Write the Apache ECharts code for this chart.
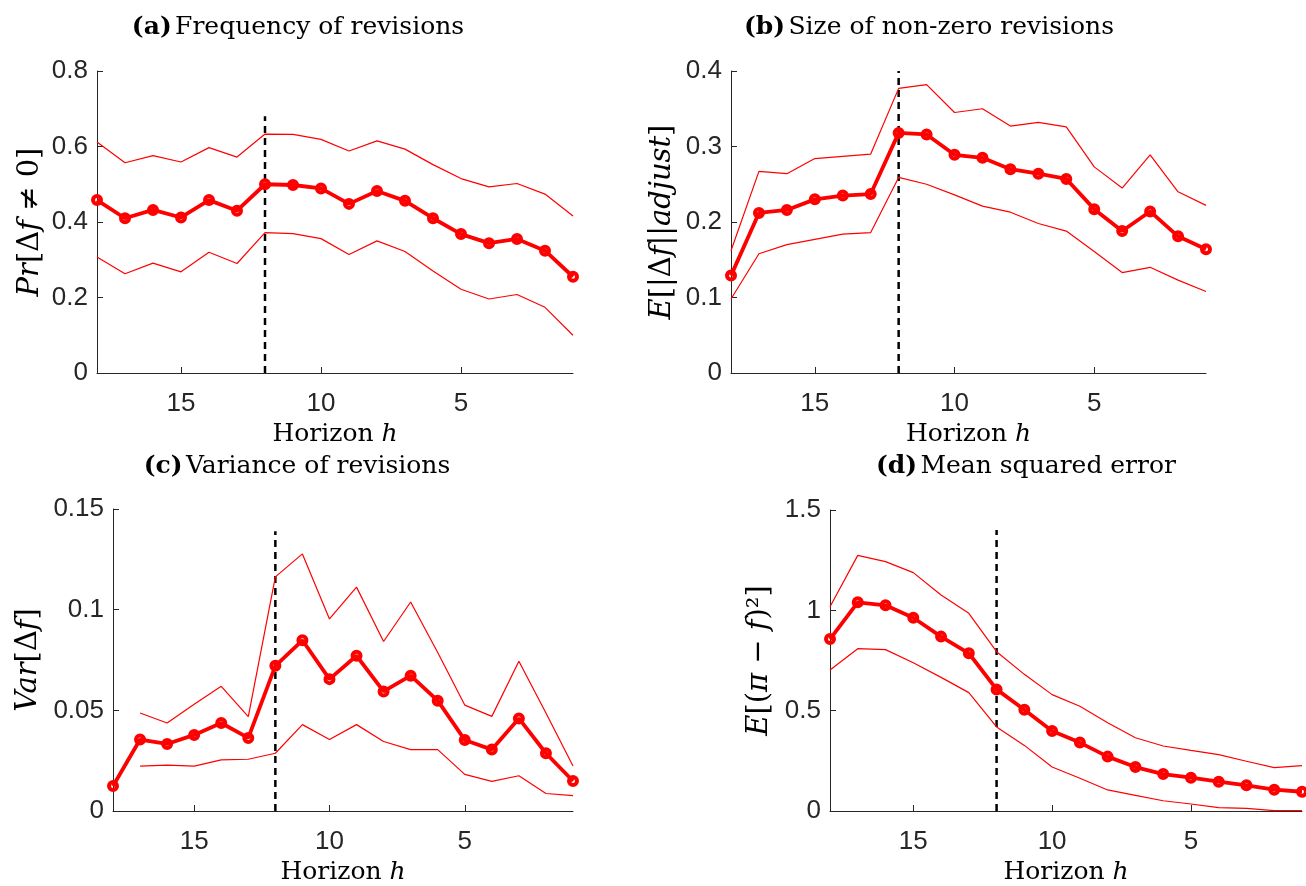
<!DOCTYPE html>
<html>
<head>
<meta charset="utf-8">
<title>Revisions by horizon</title>
<script src="https://cdn.jsdelivr.net/npm/echarts@6/dist/echarts.min.js"></script>
<style>
html,body{margin:0;padding:0;background:#fff;}
#main{width:1306px;height:886px;}
</style>
</head>
<body>
<div id="main"></div>
<script>
var horizon = [18,17,16,15,14,13,12,11,10,9,8,7,6,5,4,3,2,1];
var xTicks = [5,10,15];
var cutoffH = 12;

// (a) frequency of revisions
var freqMean  = [0.458,0.410,0.432,0.412,0.458,0.430,0.500,0.498,0.489,0.448,0.482,0.456,0.410,0.368,0.344,0.355,0.324,0.255];
var freqUpper = [0.612,0.557,0.576,0.559,0.597,0.572,0.633,0.632,0.619,0.588,0.615,0.593,0.552,0.515,0.493,0.502,0.474,0.416];
var freqLower = [0.307,0.263,0.291,0.268,0.320,0.290,0.372,0.369,0.356,0.314,0.350,0.322,0.270,0.222,0.196,0.208,0.174,0.100];

// (b) size of non-zero revisions
var sizeMean  = [0.129,0.212,0.216,0.230,0.235,0.237,0.318,0.316,0.289,0.285,0.270,0.264,0.257,0.217,0.188,0.214,0.181,0.164];
var sizeUpper = [0.162,0.267,0.264,0.284,0.287,0.290,0.377,0.382,0.345,0.350,0.327,0.332,0.326,0.273,0.245,0.289,0.240,0.222];
var sizeLower = [0.098,0.158,0.170,0.177,0.184,0.186,0.259,0.250,0.236,0.221,0.213,0.198,0.188,0.161,0.133,0.140,0.123,0.108];

// (c) variance of revisions
var varMean  = [0.0124,0.0355,0.0333,0.0378,0.0437,0.0363,0.0721,0.0848,0.0655,0.0771,0.0594,0.0672,0.0548,0.0353,0.0305,0.0460,0.0287,0.0149];
var varUpper = [null,0.0487,0.0437,0.0530,0.0619,0.0469,0.1163,0.1277,0.0954,0.1112,0.0842,0.1038,0.0787,0.0526,0.0470,0.0744,0.0487,0.0223];
var varLower = [null,0.0223,0.0228,0.0223,0.0254,0.0257,0.0287,0.0429,0.0355,0.0429,0.0345,0.0305,0.0305,0.0182,0.0147,0.0175,0.0087,0.0076];

// (d) mean squared error
var mseMean  = [0.857,1.040,1.025,0.963,0.869,0.786,0.606,0.505,0.399,0.341,0.271,0.219,0.184,0.166,0.146,0.128,0.106,0.096];
var mseUpper = [1.018,1.274,1.243,1.188,1.076,0.985,0.794,0.681,0.580,0.522,0.440,0.365,0.324,0.302,0.281,0.248,0.216,0.226];
var mseLower = [0.703,0.809,0.804,0.739,0.666,0.590,0.419,0.327,0.219,0.163,0.105,0.078,0.051,0.035,0.017,0.013,0.002,0.002];

// top of the dashed cutoff line in each panel
var cutoffTop = [0.68, 0.4, 0.139, 1.4];

var axisColor = '#262626';
var serif = 'DejaVu Serif';
var sans = "'Liberation Sans', sans-serif";

function pairs(arr){
	return horizon.map(function(h, i){
		return [h, arr[i] === null ? '-' : arr[i]];
	});
}

function xAxisFor(idx){
	return {
		type: 'value', gridIndex: idx, min: 1, max: 18, inverse: true,
		name: '{n|Horizon} {i|h}', nameLocation: 'middle', nameGap: 49,
		nameTextStyle: {
			fontFamily: serif, fontSize: 25, color: '#000',
			rich: {
				n: {fontFamily: serif, fontSize: 25, color: '#000'},
				i: {fontFamily: serif, fontSize: 25, fontStyle: 'italic', color: '#000'}
			}
		},
		axisLine: {show: true, lineStyle: {color: axisColor, width: 1}},
		axisTick: {show: true, inside: true, length: 6, customValues: xTicks, lineStyle: {color: axisColor}},
		axisLabel: {customValues: xTicks, margin: 18, fontFamily: sans, fontSize: 26, color: axisColor},
		splitLine: {show: false}
	};
}

function yAxisFor(idx, max, step, name, gap){
	return {
		type: 'value', gridIndex: idx, min: 0, max: max, interval: step,
		name: name, nameLocation: 'middle', nameGap: gap, nameRotate: 90,
		nameTextStyle: {
			fontFamily: serif, fontSize: 29, color: '#000',
			rich: {
				u: {fontFamily: serif, fontSize: 29, color: '#000'},
				i: {fontFamily: serif, fontSize: 29, fontStyle: 'italic', color: '#000'}
			}
		},
		axisLine: {show: true, lineStyle: {color: axisColor, width: 1}},
		axisTick: {show: true, inside: true, length: 6, lineStyle: {color: axisColor}},
		axisLabel: {margin: 9, fontFamily: sans, fontSize: 26, color: axisColor},
		splitLine: {show: false}
	};
}

function panelSeries(idx, mean, upper, lower){
	return [
		{type: 'line', xAxisIndex: idx, yAxisIndex: idx, data: [[cutoffH, 0], [cutoffH, cutoffTop[idx]]],
			symbol: 'none', lineStyle: {color: '#000', width: 2.5, type: [7, 5]}, silent: true, z: 1},
		{type: 'line', xAxisIndex: idx, yAxisIndex: idx, data: pairs(upper), symbol: 'none',
			lineStyle: {color: '#ff0000', width: 1.2}, z: 2},
		{type: 'line', xAxisIndex: idx, yAxisIndex: idx, data: pairs(lower), symbol: 'none',
			lineStyle: {color: '#ff0000', width: 1.2}, z: 2},
		{type: 'line', xAxisIndex: idx, yAxisIndex: idx, data: pairs(mean),
			symbol: 'circle', symbolSize: 8, showAllSymbol: true,
			itemStyle: {color: 'rgba(255,0,0,0)', borderColor: '#ff0000', borderWidth: 4},
			lineStyle: {color: '#ff0000', width: 3.8}, z: 3}
	];
}

function titleText(x, y, tag, text){
	return {
		type: 'text', x: x, y: y,
		style: {
			text: '{b|' + tag + '} {r|' + text + '}',
			align: 'center', verticalAlign: 'middle',
			rich: {
				b: {fontFamily: serif, fontSize: 25, fontWeight: 'bold', fill: '#000'},
				r: {fontFamily: serif, fontSize: 25, fill: '#000'}
			}
		}
	};
}

var myChart = echarts.init(document.getElementById('main'));
var option = {
	animation: false,
	backgroundColor: '#fff',
	grid: [
		{left: 97, top: 71, width: 476, height: 302},
		{left: 731, top: 71, width: 475, height: 302},
		{left: 113, top: 509, width: 460, height: 302},
		{left: 830, top: 510, width: 472, height: 301}
	],
	xAxis: [xAxisFor(0), xAxisFor(1), xAxisFor(2), xAxisFor(3)],
	yAxis: [
		yAxisFor(0, 0.8, 0.2, '{i|Pr}{u|[Δ}{i|f}{u| ≠ 0]}', 52),
		yAxisFor(1, 0.4, 0.1, '{i|E}{u|[|Δ}{i|f}{u|||}{i|adjust}{u|]}', 54),
		yAxisFor(2, 0.15, 0.05, '{i|Var}{u|[Δ}{i|f}{u|]}', 70),
		yAxisFor(3, 1.5, 0.5, '{i|E}{u|[(}{i|π}{u| − }{i|f}{u|)²]}', 56)
	],
	graphic: [
		titleText(298, 27, '(a)', 'Frequency of revisions'),
		titleText(929, 27, '(b)', 'Size of non-zero revisions'),
		titleText(297, 466, '(c)', 'Variance of revisions'),
		titleText(1026, 466, '(d)', 'Mean squared error')
	],
	series: [].concat(
		panelSeries(0, freqMean, freqUpper, freqLower),
		panelSeries(1, sizeMean, sizeUpper, sizeLower),
		panelSeries(2, varMean, varUpper, varLower),
		panelSeries(3, mseMean, mseUpper, mseLower)
	)
};
myChart.setOption(option);
window.addEventListener('resize', function () {
	myChart.resize();
});
</script>
</body>
</html>
